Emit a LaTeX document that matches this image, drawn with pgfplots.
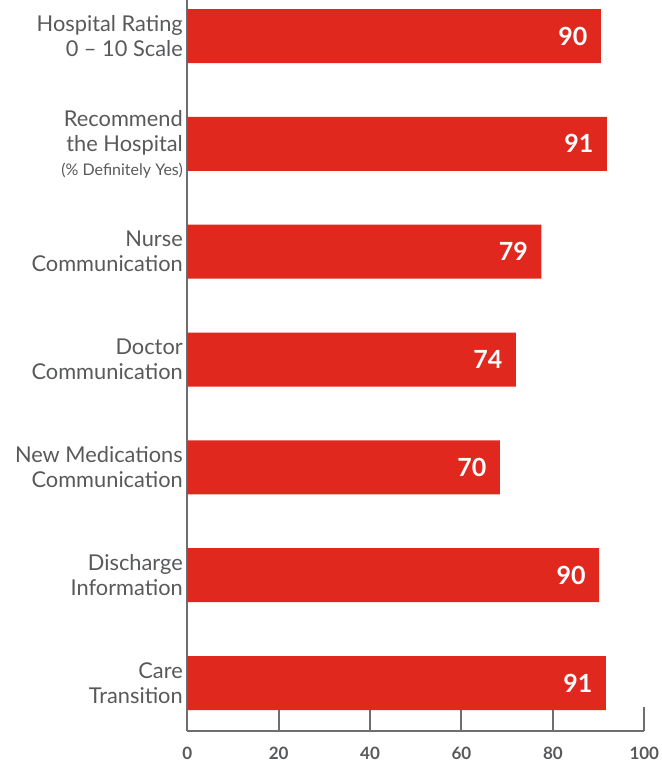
\documentclass[border=0pt]{standalone}
\usepackage{fontspec}
\setmainfont{Lato}
\usepackage{pgfplots}
\usepackage{pgfplotstable}
\pgfplotsset{compat=1.18}
\usetikzlibrary{calc}
\definecolor{barred}{HTML}{E0281E}
\definecolor{txtgray}{HTML}{58595B}
\definecolor{axgray}{HTML}{6D6E71}
\pgfplotstableread[col sep=comma]{
pos,value,label
6,90.5,90
5,91.8,91
4,77.5,79
3,71.9,74
2,68.4,70
1,90.1,90
0,91.6,91
}\datatable
\begin{document}
\begin{tikzpicture}
\begin{axis}[
  name=ax,
  scale only axis, width=457pt, height=731pt,
  xmin=0, xmax=100, ymin=-0.445, ymax=6.334,
  xbar, bar width=54pt,
  axis lines*=left,
  axis line style={axgray, line width=2pt},
  tick align=inside,
  xtick={0,20,40,60,80,100},
  ytick={0,1,2,3,4,5,6},
  major tick length=24pt,
  every tick/.style={axgray, line width=2pt},
  major tick style={axgray, line width=2pt},
  xtick style={draw=axgray, line width=2pt},
  ytick style={draw=none},
  xticklabel shift=13pt,
  /pgf/number format/assume math mode=true,
  xticklabel style={font=\bfseries\fontsize{17}{20}\selectfont, text=txtgray},
  yticklabel style={font=\fontsize{21.8}{25}\selectfont, text=txtgray, align=right, xshift=-1pt},
  yticklabels={{Care\\Transition},{Discharge\\Information},{New Medications\\Communication},{Doctor\\Communication},{Nurse\\Communication},{Recommend\\the Hospital\\[-1pt]{\fontsize{16}{18}\selectfont (\% Definitely Yes)}},{Hospital Rating\\0 – 10 Scale}},
  nodes near coords,
  point meta=explicit symbolic,
  nodes near coords align={anchor=east},
  every node near coord/.append style={anchor=east, xshift=-10pt, text=white, font=\bfseries\fontsize{25}{30}\selectfont},
  clip=false,
]
\addplot[fill=barred, draw=none] table[x=value, y=pos, meta=label] {\datatable};
\end{axis}
\pgfresetboundingbox
\path[use as bounding box] ($(ax.south west)+(-187.3pt,-33pt)$) rectangle ($(ax.south west)+(474.7pt,731pt)$);
\end{tikzpicture}
\end{document}
